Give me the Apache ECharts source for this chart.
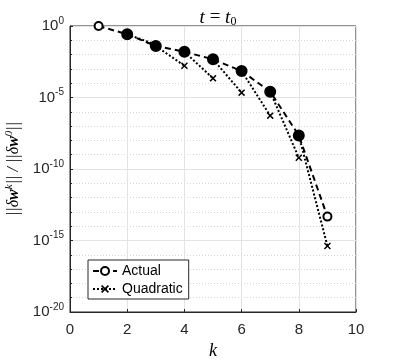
<!DOCTYPE html>
<html>
<head>
<meta charset="utf-8">
<script src="https://cdn.jsdelivr.net/npm/echarts@6/dist/echarts.min.js"></script>
<style>
  html, body { margin: 0; padding: 0; background: #fff; }
  #chart { width: 407px; height: 363px; }
</style>
</head>
<body>
<div id="chart"></div>
<script>
// iterations k and relative errors
const iterations = [1, 2, 3, 4, 5, 6, 7, 8, 9];
const actual = [1, 2.63e-1, 3.98e-2, 1.58e-2, 4.68e-3, 7.08e-4, 2.57e-5, 2.24e-8, 4.68e-14];
// quadratic prediction for k = 3..9, each drawn from the actual value at k-1
const quadK = [3, 4, 5, 6, 7, 8, 9];
const quadratic = [5.0e-2, 1.66e-3, 2.19e-4, 2.19e-5, 5.37e-7, 6.17e-10, 4.17e-16];

let myChart = echarts.init(document.getElementById('chart'));

const sans = 'Liberation Sans';
const serif = 'Liberation Serif';
const xMark = 'path://M1.5,0 L5,3.5 L8.5,0 L10,1.5 L6.5,5 L10,8.5 L8.5,10 L5,6.5 L1.5,10 L0,8.5 L3.5,5 L0,1.5 Z';

// actual points: ends open, middle ones look filled
const actualData = iterations.map((k, i) => {
    if (i === 0 || i === iterations.length - 1) return [k, actual[i]];
    return { value: [k, actual[i]], symbol: 'circle', symbolSize: 10 };
});

// quadratic segments: actual(k-1) -> quadratic(k), broken between segments
const quadData = [];
quadK.forEach((k, j) => {
    quadData.push({ value: [k - 1, actual[k - 2]], symbol: 'none' });
    quadData.push([k, quadratic[j]]);
    quadData.push([k, '-']);
});

const logAxis = {
    type: 'log',
    logBase: 10,
    min: 1e-20,
    max: 1,
    gridIndex: 0
};

option = {
    backgroundColor: '#fff',
    animation: false,
    title: {
        text: '{i|t} = {i|t}{sub|0}',
        left: 213,
        textAlign: 'center',
        top: 2,
        textStyle: {
            rich: {
                i: { fontFamily: serif, fontStyle: 'italic', fontSize: 19, color: '#000' },
                sub: { fontFamily: serif, fontSize: 12, color: '#000', padding: [9, 0, 0, 0] }
            },
            fontFamily: serif,
            fontSize: 19,
            color: '#000',
            fontWeight: 'normal'
        }
    },
    grid: {
        left: 70, right: 51, top: 26, bottom: 51,
        outerBoundsMode: 'none',
        show: true,
        borderColor: '#262626',
        borderWidth: 1
    },
    legend: {
        orient: 'vertical',
        left: 88,
        top: 260,
        padding: [4, 6, 3, 4],
        itemGap: 4,
        itemWidth: 24,
        itemHeight: 10,
        borderColor: '#262626',
        borderWidth: 1,
        backgroundColor: '#fff',
        textStyle: { fontFamily: sans, fontSize: 14, color: '#000' },
        data: ['Actual', 'Quadratic']
    },
    xAxis: {
        type: 'value',
        min: 0,
        max: 10,
        interval: 2,
        name: 'k',
        nameLocation: 'middle',
        nameGap: 30,
        nameTextStyle: { fontFamily: serif, fontStyle: 'italic', fontSize: 18, color: '#000' },
        axisLine: { lineStyle: { color: '#262626' } },
        axisTick: { inside: true, length: 3, lineStyle: { color: '#262626' } },
        axisLabel: { fontFamily: sans, fontSize: 15, color: '#262626', margin: 10 },
        splitLine: { lineStyle: { color: '#e3e3e3' } }
    },
    yAxis: [
        // decade grid: dotted lines, no labels
        Object.assign({}, logAxis, {
            interval: 1,
            axisLine: { show: false },
            axisTick: { show: true, inside: true, length: 2, lineStyle: { color: '#262626' } },
            axisLabel: { show: false },
            splitLine: { show: true, lineStyle: { color: '#d6d6d6', type: [1, 2] } }
        }),
        // labelled axis every five decades
        Object.assign({}, logAxis, {
            interval: 5,
            position: 'left',
            name: '||δ{bw|w}{sup|k}|| / ||δ{bw|w}{sup|0}||',
            nameLocation: 'middle',
            nameRotate: 90,
            nameGap: 45,
            nameTextStyle: {
                fontFamily: serif, fontStyle: 'italic', fontSize: 16, color: '#000',
                rich: {
                    bw: { fontFamily: serif, fontWeight: 'bold', fontSize: 16, color: '#000' },
                    sup: { fontFamily: serif, fontStyle: 'italic', fontSize: 11, color: '#000', padding: [0, 0, 9, 0] }
                }
            },
            axisLine: { show: true, lineStyle: { color: '#262626' } },
            axisTick: { show: true, inside: true, length: 3, lineStyle: { color: '#262626' } },
            axisLabel: {
                margin: 6,
                formatter: function (v) {
                    const e = Math.round(Math.log10(v));
                    return '{b|10}{e|' + e + '}';
                },
                rich: {
                    b: { fontFamily: sans, fontSize: 15, color: '#262626' },
                    e: { fontFamily: sans, fontSize: 10, color: '#262626', padding: [0, 0, 10, 0] }
                }
            },
            splitLine: { show: true, lineStyle: { color: '#e3e3e3' } }
        })
    ],
    series: [
        {
            name: 'Actual',
            type: 'line',
            yAxisIndex: 1,
            data: actualData,
            symbol: 'emptyCircle',
            symbolSize: 8,
            lineStyle: { color: '#000', width: 2, type: [6, 4] },
            itemStyle: { color: '#000', borderColor: '#000', borderWidth: 2 },
            z: 2
        },
        {
            name: 'Quadratic',
            type: 'line',
            yAxisIndex: 1,
            data: quadData,
            connectNulls: false,
            symbol: xMark,
            symbolSize: 7,
            lineStyle: { color: '#000', width: 2, type: [2, 2] },
            itemStyle: { color: '#000' },
            z: 3
        }
    ]
};

myChart.setOption(option);
</script>
</body>
</html>
